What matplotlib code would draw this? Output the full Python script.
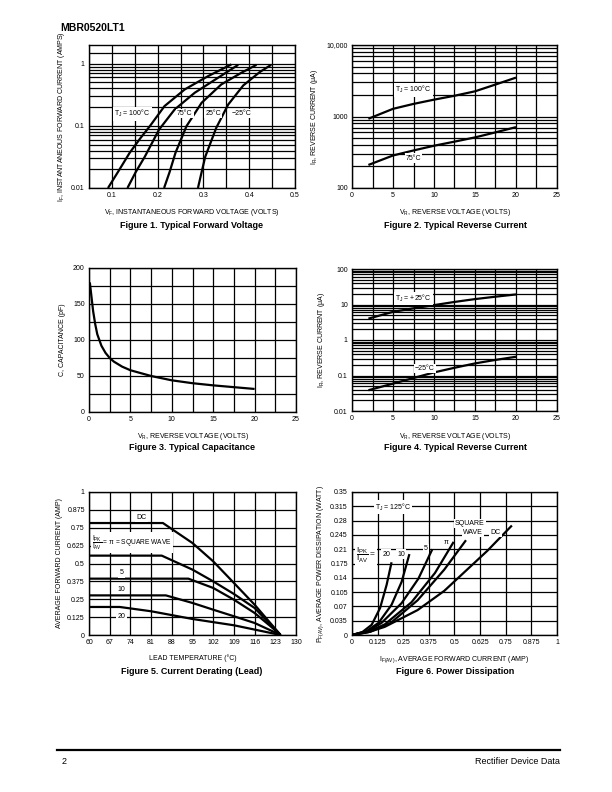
import matplotlib
matplotlib.use("Agg")
import matplotlib.pyplot as plt
from matplotlib.ticker import MultipleLocator, FixedLocator, NullFormatter

plt.rcParams['font.family'] = ['Liberation Sans', 'DejaVu Sans']
plt.rcParams['mathtext.fontset'] = 'custom'
plt.rcParams['mathtext.rm'] = 'Liberation Sans'
plt.rcParams['mathtext.it'] = 'Liberation Sans'

# Figure 1 - typical forward voltage
fwd_100_v = [0.0915, 0.115, 0.139, 0.162, 0.183, 0.215, 0.259, 0.310, 0.361]
fwd_100_i = [0.01, 0.019, 0.037, 0.063, 0.099, 0.208, 0.385, 0.63, 0.975]
fwd_75_v = [0.134, 0.152, 0.172, 0.203, 0.237, 0.281, 0.332, 0.376]
fwd_75_i = [0.01, 0.018, 0.032, 0.087, 0.183, 0.341, 0.595, 0.96]
fwd_25_v = [0.214, 0.226, 0.239, 0.263, 0.296, 0.339, 0.383, 0.416]
fwd_25_i = [0.01, 0.018, 0.037, 0.099, 0.235, 0.464, 0.716, 0.96]
fwd_m25_v = [0.288, 0.296, 0.304, 0.328, 0.354, 0.387, 0.423, 0.448]
fwd_m25_i = [0.01, 0.018, 0.032, 0.093, 0.22, 0.447, 0.734, 0.96]

# Figure 2 - reverse current, high temperature
rev_v = [2, 5, 7.5, 10, 12.5, 15, 17.5, 20]
rev_100 = [930, 1280, 1500, 1720, 1950, 2250, 2800, 3500]
rev_75 = [210, 285, 335, 390, 445, 510, 600, 710]

# Figure 3 - capacitance
cap_v = [0.1, 0.3, 0.5, 0.75, 1, 1.5, 2, 2.5, 3, 4, 5, 7.5, 10, 12.5, 15, 17.5, 20]
cap_pf = [180, 160, 140, 122, 108, 92, 82, 75, 70, 63, 58, 50, 44, 40, 37, 34.5, 32]

# Figure 4 - reverse current, low temperature
rev_p25 = [4.0, 6.2, 7.8, 9.6, 11.8, 14.2, 16.6, 19.2]
rev_m25 = [0.0385, 0.059, 0.085, 0.122, 0.165, 0.219, 0.275, 0.337]

# Figure 5 - current derating
der_dc_t = [60, 85, 95, 102, 109, 116, 120.8, 124.8]
der_dc_i = [0.783, 0.783, 0.643, 0.515, 0.364, 0.212, 0.096, 0]
der_sq_t = [60, 84.6, 95, 102, 109, 116, 121.4, 124.8]
der_sq_i = [0.555, 0.555, 0.457, 0.375, 0.287, 0.189, 0.072, 0]
der_5_t = [60, 93.6, 102, 109, 116, 121.4, 124.8]
der_5_i = [0.394, 0.394, 0.329, 0.247, 0.154, 0.061, 0]
der_10_t = [60, 86, 95, 102, 109, 116, 124.8]
der_10_i = [0.277, 0.277, 0.224, 0.177, 0.131, 0.084, 0]
der_20_t = [60, 70.4, 81, 95, 109, 124.8]
der_20_i = [0.196, 0.196, 0.166, 0.112, 0.068, 0]

# Figure 6 - power dissipation
pd_20_i = [0, 0.05, 0.096, 0.137, 0.169, 0.193]
pd_20_p = [0, 0.007, 0.025, 0.066, 0.123, 0.178]
pd_10_i = [0, 0.07, 0.13, 0.193, 0.242, 0.28]
pd_10_p = [0, 0.009, 0.03, 0.074, 0.13, 0.198]
pd_5_i = [0, 0.08, 0.145, 0.242, 0.324, 0.392]
pd_5_p = [0, 0.01, 0.03, 0.078, 0.138, 0.21]
pd_pi_i = [0, 0.08, 0.16, 0.29, 0.405, 0.496]
pd_pi_p = [0, 0.008, 0.026, 0.08, 0.152, 0.228]
pd_sq_i = [0, 0.09, 0.19, 0.32, 0.45, 0.556]
pd_sq_p = [0, 0.008, 0.03, 0.085, 0.16, 0.232]
pd_dc_i = [0, 0.08, 0.16, 0.32, 0.45, 0.555, 0.66, 0.78]
pd_dc_p = [0, 0.007, 0.02, 0.061, 0.108, 0.157, 0.206, 0.268]

volt_ticks = [0, 5, 10, 15, 20, 25]
temp_ticks = list(range(60, 131, 7))
frac_ticks = [0, 0.125, 0.25, 0.375, 0.5, 0.625, 0.75, 0.875, 1]
frac_labels = ['0', '0.125', '0.25', '0.375', '0.5', '0.625', '0.75', '0.875', '1']
pwr_ticks = [0, 0.035, 0.07, 0.105, 0.14, 0.175, 0.21, 0.245, 0.28, 0.315, 0.35]
pwr_labels = ['0', '0.035', '0.07', '0.105', '0.14', '0.175', '0.21',
              '0.245', '0.28', '0.315', '0.35']

W, H = 612, 792
fig = plt.figure(figsize=(W / 100, H / 100), dpi=100)


def ax_at(x0, y0, x1, y1):
    return fig.add_axes([x0 / W, 1 - y1 / H, (x1 - x0) / W, (y1 - y0) / H])


def style(ax):
    ax.grid(which='both', color='black', lw=0.9)
    ax.set_axisbelow(True)
    ax.tick_params(which='both', length=0, labelsize=5, pad=3)
    for s in ax.spines.values():
        s.set_linewidth(1.0)


def lbl(ax, x, y, s, size=5, ha='center'):
    ax.text(x, y, s, fontsize=size, ha=ha, va='center',
            bbox=dict(facecolor='white', edgecolor='none', pad=0.8))


CURVE = dict(color='black', lw=1.6, solid_capstyle='butt')
FRAC = r'$\dfrac{I_{PK}}{I_{AV}}$'

# ---- Figure 1
ax1 = ax_at(89, 45, 295, 188)
ax1.set_yscale('log')
ax1.set_xlim(0.05, 0.5)
ax1.set_ylim(0.01, 2.0)
ax1.xaxis.set_major_locator(FixedLocator([0.1, 0.2, 0.3, 0.4, 0.5]))
ax1.xaxis.set_minor_locator(MultipleLocator(0.05))
ax1.set_xticklabels(['0.1', '0.2', '0.3', '0.4', '0.5'])
ax1.yaxis.set_major_locator(FixedLocator([0.01, 0.1, 1]))
ax1.yaxis.set_minor_locator(FixedLocator(
    [k * 0.01 for k in range(2, 10)] + [k * 0.1 for k in range(2, 10)] + [1.5]))
ax1.yaxis.set_minor_formatter(NullFormatter())
ax1.set_yticklabels(['0.01', '0.1', '1'])
style(ax1)
for v, i in [(fwd_100_v, fwd_100_i), (fwd_75_v, fwd_75_i),
             (fwd_25_v, fwd_25_i), (fwd_m25_v, fwd_m25_i)]:
    ax1.plot(v, i, **CURVE)
lbl(ax1, 0.145, 0.156, 'T$_J$ = 100°C')
lbl(ax1, 0.259, 0.156, '75°C')
lbl(ax1, 0.321, 0.156, '25°C')
lbl(ax1, 0.383, 0.156, '−25°C')
ax1.set_xlabel('V$_F$, INSTANTANEOUS FORWARD VOLTAGE (VOLTS)', fontsize=5, labelpad=6)
ax1.set_ylabel('I$_F$, INSTANTANEOUS FORWARD CURRENT (AMPS)', fontsize=5, labelpad=3)

# ---- Figure 2
ax2 = ax_at(352, 45, 557, 188)
ax2.set_yscale('log')
ax2.set_xlim(0, 25)
ax2.set_ylim(100, 10000)
ax2.xaxis.set_major_locator(FixedLocator(volt_ticks))
ax2.xaxis.set_minor_locator(MultipleLocator(2.5))
ax2.yaxis.set_major_locator(FixedLocator([100, 1000, 10000]))
ax2.yaxis.set_minor_locator(FixedLocator(
    [k * 100 for k in range(2, 10)] + [k * 1000 for k in range(2, 10)]))
ax2.yaxis.set_minor_formatter(NullFormatter())
ax2.set_yticklabels(['100', '1000', '10,000'])
style(ax2)
ax2.plot(rev_v, rev_100, **CURVE)
ax2.plot(rev_v, rev_75, **CURVE)
lbl(ax2, 7.5, 2360, 'T$_J$ = 100°C')
lbl(ax2, 7.5, 262, '75°C')
ax2.set_xlabel('V$_R$, REVERSE VOLTAGE (VOLTS)', fontsize=5, labelpad=6)
ax2.set_ylabel('I$_R$, REVERSE CURRENT (μA)', fontsize=5, labelpad=5)

# ---- Figure 3
ax3 = ax_at(89, 268, 296, 412)
ax3.set_xlim(0, 25)
ax3.set_ylim(0, 200)
ax3.xaxis.set_major_locator(FixedLocator(volt_ticks))
ax3.xaxis.set_minor_locator(MultipleLocator(2.5))
ax3.yaxis.set_major_locator(FixedLocator([0, 50, 100, 150, 200]))
ax3.yaxis.set_minor_locator(MultipleLocator(25))
style(ax3)
ax3.plot(cap_v, cap_pf, **CURVE)
ax3.set_xlabel('V$_R$, REVERSE VOLTAGE (VOLTS)', fontsize=5, labelpad=6)
ax3.set_ylabel('C, CAPACITANCE (pF)', fontsize=5, labelpad=5)

# ---- Figure 4
ax4 = ax_at(352, 269, 557, 411)
ax4.set_yscale('log')
ax4.set_xlim(0, 25)
ax4.set_ylim(0.01, 100)
ax4.xaxis.set_major_locator(FixedLocator(volt_ticks))
ax4.xaxis.set_minor_locator(MultipleLocator(2.5))
ax4.yaxis.set_major_locator(FixedLocator([0.01, 0.1, 1, 10, 100]))
ax4.yaxis.set_minor_locator(FixedLocator(
    [k * d for d in (0.01, 0.1, 1, 10) for k in range(2, 10)]))
ax4.yaxis.set_minor_formatter(NullFormatter())
ax4.set_yticklabels(['0.01', '0.1', '1', '10', '100'])
style(ax4)
ax4.plot(rev_v, rev_p25, **CURVE)
ax4.plot(rev_v, rev_m25, **CURVE)
lbl(ax4, 7.5, 14.8, 'T$_J$ = +25°C')
lbl(ax4, 8.9, 0.158, '−25°C')
ax4.set_xlabel('V$_R$, REVERSE VOLTAGE (VOLTS)', fontsize=5, labelpad=6)
ax4.set_ylabel('I$_R$, REVERSE CURRENT (μA)', fontsize=5, labelpad=5)

# ---- Figure 5
ax5 = ax_at(89, 492, 296, 635)
ax5.set_xlim(60, 130)
ax5.set_ylim(0, 1)
ax5.xaxis.set_major_locator(FixedLocator(temp_ticks))
ax5.set_xticklabels([str(t) for t in temp_ticks])
ax5.yaxis.set_major_locator(FixedLocator(frac_ticks))
ax5.set_yticklabels(frac_labels)
style(ax5)
for t, i in [(der_dc_t, der_dc_i), (der_sq_t, der_sq_i), (der_5_t, der_5_i),
             (der_10_t, der_10_i), (der_20_t, der_20_i)]:
    ax5.plot(t, i, **CURVE)
lbl(ax5, 77.8, 0.822, 'DC')
lbl(ax5, 61.0, 0.645, FRAC + ' = π = SQUARE WAVE', size=4.8, ha='left')
lbl(ax5, 71, 0.434, '5')
lbl(ax5, 71, 0.317, '10')
lbl(ax5, 71, 0.13, '20')
ax5.set_xlabel('LEAD TEMPERATURE (°C)', fontsize=5, labelpad=6)
ax5.set_ylabel('AVERAGE FORWARD CURRENT (AMP)', fontsize=5, labelpad=3)

# ---- Figure 6
ax6 = ax_at(352, 492, 557, 635)
ax6.set_xlim(0, 1)
ax6.set_ylim(0, 0.35)
ax6.xaxis.set_major_locator(FixedLocator(frac_ticks))
ax6.set_xticklabels(frac_labels)
ax6.yaxis.set_major_locator(FixedLocator(pwr_ticks))
ax6.set_yticklabels(pwr_labels)
style(ax6)
for i, p in [(pd_20_i, pd_20_p), (pd_10_i, pd_10_p), (pd_5_i, pd_5_p),
             (pd_pi_i, pd_pi_p), (pd_sq_i, pd_sq_p), (pd_dc_i, pd_dc_p)]:
    ax6.plot(i, p, **CURVE)
lbl(ax6, 0.2, 0.313, 'T$_J$ = 125°C')
lbl(ax6, 0.02, 0.194, FRAC + ' =', size=6, ha='left')
lbl(ax6, 0.168, 0.198, '20')
lbl(ax6, 0.24, 0.198, '10')
lbl(ax6, 0.36, 0.212, '5')
lbl(ax6, 0.457, 0.226, 'π')
lbl(ax6, 0.574, 0.273, 'SQUARE')
lbl(ax6, 0.59, 0.251, 'WAVE')
lbl(ax6, 0.70, 0.251, 'DC')
ax6.set_xlabel('I$_{F(AV)}$, AVERAGE FORWARD CURRENT (AMP)', fontsize=5, labelpad=6)
ax6.set_ylabel('P$_{F(AV)}$, AVERAGE POWER DISSIPATION (WATT)', fontsize=5, labelpad=3)

# captions
caps = [(192, 225, 'Figure 1. Typical Forward Voltage'),
        (455, 225, 'Figure 2. Typical Reverse Current'),
        (192, 448, 'Figure 3. Typical Capacitance'),
        (455, 448, 'Figure 4. Typical Reverse Current'),
        (192, 672, 'Figure 5. Current Derating (Lead)'),
        (455, 672, 'Figure 6. Power Dissipation')]
for x, y, s in caps:
    fig.text(x / W, 1 - y / H, s, fontsize=6.5, fontweight='bold', ha='center', va='center')

fig.text(60 / W, 1 - 28 / H, 'MBR0520LT1', fontsize=7.5, fontweight='heavy', ha='left', va='center')

fig.add_artist(plt.Line2D([57 / W, 560 / W], [1 - 750 / H, 1 - 750 / H], color='black', lw=1.6))
fig.text(62 / W, 1 - 762 / H, '2', fontsize=6.5, ha='left', va='center')
fig.text(560 / W, 1 - 762 / H, 'Rectifier Device Data', fontsize=6.5, ha='right', va='center')

fig.savefig('out.png', dpi=100)
